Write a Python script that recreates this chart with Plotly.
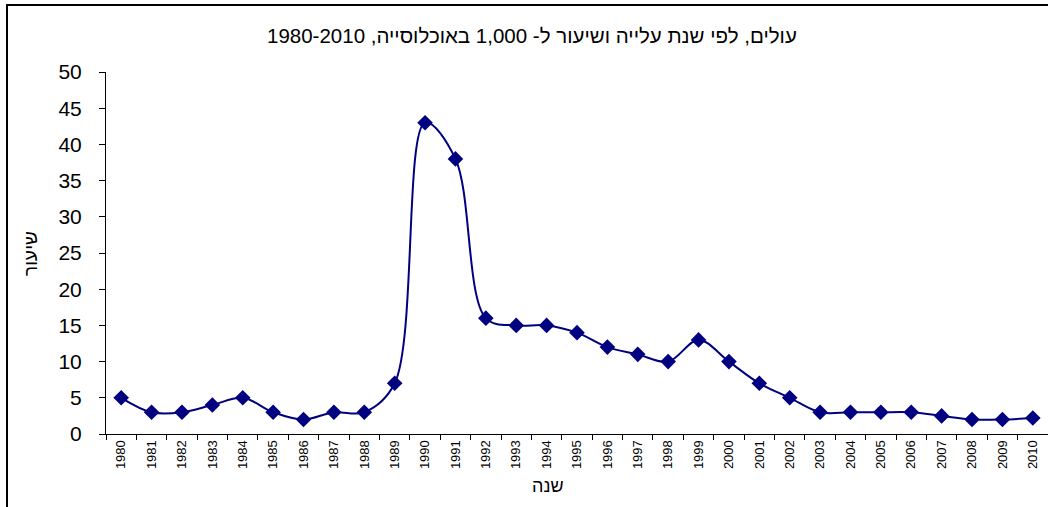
import plotly.graph_objects as go

years = [str(y) for y in range(1980, 2011)]
rates = [5, 3, 3, 4, 5, 3, 2, 3, 3, 7,
         43, 38, 16, 15, 15, 14, 12, 11, 10, 13,
         10, 7, 5, 3, 3, 3, 3, 2.5, 2, 2, 2.2]
y_ticks = [0, 5, 10, 15, 20, 25, 30, 35, 40, 45, 50]

title_text = "עולים, לפי שנת עלייה ושיעור ל- 1,000 באוכלוסייה, 1980-2010"
y_title = "שיעור"
x_title = "שנה"

W, H = 1048, 507
L, R, T, B = 106, 0, 72, 73
pw = W - L - R
ph = H - T - B

def px(x):
    return (x - L) / pw

def py(y):
    return (H - B - y) / ph

NAVY = "#000080"
FONT = "Liberation Sans, Arial, DejaVu Sans, sans-serif"

fig = go.Figure()
fig.add_trace(go.Scatter(
    x=years, y=rates, mode="lines+markers",
    line=dict(color=NAVY, width=2, shape="spline", smoothing=1.0),
    marker=dict(symbol="diamond", size=12, color=NAVY),
    hoverinfo="skip", showlegend=False,
))

fig.update_layout(
    width=W, height=H,
    margin=dict(l=L, r=R, t=T, b=B),
    paper_bgcolor="white", plot_bgcolor="white",
    font=dict(family=FONT, color="black"),
    showlegend=False,
    xaxis=dict(
        type="category", tickson="boundaries", ticks="outside", ticklen=5,
        tickcolor="black", showline=True, linecolor="black", linewidth=1,
        showgrid=False, zeroline=False, tickangle=-90,
        tickfont=dict(size=13, family=FONT, color="black"),
        range=[-0.5, len(years) - 0.5],
    ),
    yaxis=dict(
        range=[0, 50], tickvals=y_ticks, ticks="outside", ticklen=6,
        tickcolor="black", showline=True, linecolor="black", linewidth=1,
        showgrid=False, zeroline=False,
        tickfont=dict(size=21, family=FONT, color="black"),
        ticklabelstandoff=13,
    ),
    annotations=[
        dict(text=title_text, xref="paper", yref="paper", x=px(532), y=py(35),
             xanchor="center", yanchor="middle", showarrow=False,
             font=dict(size=20.5, family=FONT, color="black")),
        dict(text=y_title, xref="paper", yref="paper", x=px(31), y=py(254),
             xanchor="center", yanchor="middle", showarrow=False, textangle=-90,
             font=dict(size=19, family=FONT, color="black")),
        dict(text=x_title, xref="paper", yref="paper", x=px(548), y=py(486),
             xanchor="center", yanchor="middle", showarrow=False,
             font=dict(size=18, family=FONT, color="black")),
    ],
    shapes=[
        dict(type="line", xref="paper", yref="paper",
             x0=px(6), x1=px(1052), y0=py(5), y1=py(5),
             line=dict(color="black", width=2)),
        dict(type="line", xref="paper", yref="paper",
             x0=px(7), x1=px(7), y0=py(4), y1=py(512),
             line=dict(color="black", width=2)),
    ],
)

fig.write_html("out.html", config={"displayModeBar": False},
               post_script="document.body.style.margin='0';document.body.style.overflow='hidden';")
